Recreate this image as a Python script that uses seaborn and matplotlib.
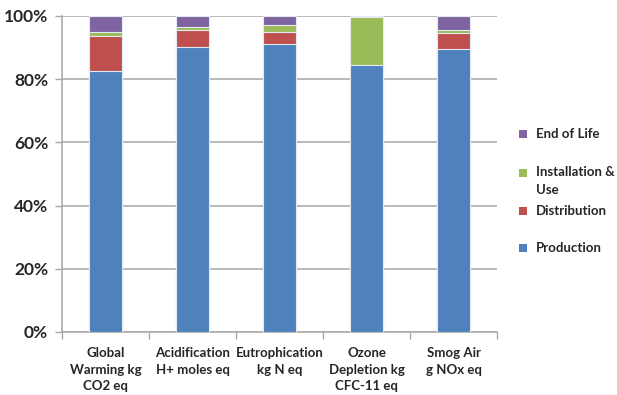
import numpy as np
import pandas as pd
import matplotlib
matplotlib.use("Agg")
import matplotlib.pyplot as plt
import seaborn as sns
from matplotlib.patches import Rectangle

categories = ["Global\nWarming kg\nCO2 eq", "Acidification\nH+ moles eq",
              "Eutrophication\nkg N eq", "Ozone\nDepletion kg\nCFC-11 eq",
              "Smog Air\ng NOx eq"]
production = [82.7, 90.2, 91.0, 84.5, 89.5]
distribution = [11.1, 5.5, 4.0, 0.1, 5.2]
installation_use = [1.0, 0.8, 2.0, 15.2, 1.0]
end_of_life = [5.2, 3.5, 3.0, 0.2, 4.3]

series_names = ["Production", "Distribution", "Installation & Use", "End of Life"]
series_colors = ["#4F81BD", "#C0504D", "#9BBB59", "#8064A2"]

sns.set_theme(style="white")
plt.rcParams["font.family"] = ["Lato", "DejaVu Sans"]
plt.rcParams["font.weight"] = "bold"

df = pd.DataFrame({"category": categories, "Production": production,
                   "Distribution": distribution,
                   "Installation & Use": installation_use,
                   "End of Life": end_of_life})
values = df[series_names]
shares = values.div(values.sum(axis=1), axis=0) * 100
cumulative = shares.cumsum(axis=1)

fig = plt.figure(figsize=(6.17, 3.95), dpi=100)
ax = fig.add_axes([62 / 617, 1 - 332 / 395, 435 / 617, 316 / 395])

# stacked bars: draw the running totals from the top segment down
for name, color in reversed(list(zip(series_names, series_colors))):
    sns.barplot(x=df["category"], y=cumulative[name], color=color, width=0.39,
                edgecolor="#E4EAF3", linewidth=0.8, saturation=1, ax=ax, zorder=3)

ax.set_ylim(0, 100)
ax.set_xlim(-0.5, 4.5)
ax.set_yticks(np.arange(0, 101, 20))
ax.set_yticklabels([f"{v}%" for v in range(0, 101, 20)], fontsize=12.5, fontweight="bold")
ax.yaxis.grid(True, color="#A6A6A6", linewidth=1.1, zorder=0)
ax.set_axisbelow(True)
ax.set_xlabel("")
ax.set_ylabel("")
ax.tick_params(axis="y", length=5, width=1, color="#A6A6A6", pad=5, left=True)
ax.tick_params(axis="x", which="major", length=0, pad=11, labelsize=9.5)
for lbl in ax.get_xticklabels():
    lbl.set_fontweight("bold")
    lbl.set_linespacing(1.45)
ax.set_xticks(np.arange(-0.5, 4.6, 1), minor=True)
ax.tick_params(axis="x", which="minor", length=5, width=1, color="#A6A6A6", bottom=True)
for side in ["top", "right"]:
    ax.spines[side].set_visible(False)
for side in ["left", "bottom"]:
    ax.spines[side].set_color("#A6A6A6")
    ax.spines[side].set_linewidth(1.1)

# legend, listed top segment first
legend_rows = [("End of Life", "#8064A2", 134), ("Installation &\nUse", "#9BBB59", 173),
               ("Distribution", "#C0504D", 211), ("Production", "#4F81BD", 248)]
for label, color, ypix in legend_rows:
    fig.patches.append(Rectangle(((523 - 4) / 617, 1 - (ypix + 4) / 395), 8 / 617, 8 / 395,
                                 transform=fig.transFigure, facecolor=color, edgecolor="none"))
    multi = "\n" in label
    ytext = 1 - (ypix - 7) / 395 if multi else 1 - ypix / 395
    fig.text(536 / 617, ytext, label, fontsize=9.5, fontweight="bold",
             ha="left", va="top" if multi else "center", linespacing=1.6,
             transform=fig.transFigure)

fig.savefig("out.png", dpi=100)
